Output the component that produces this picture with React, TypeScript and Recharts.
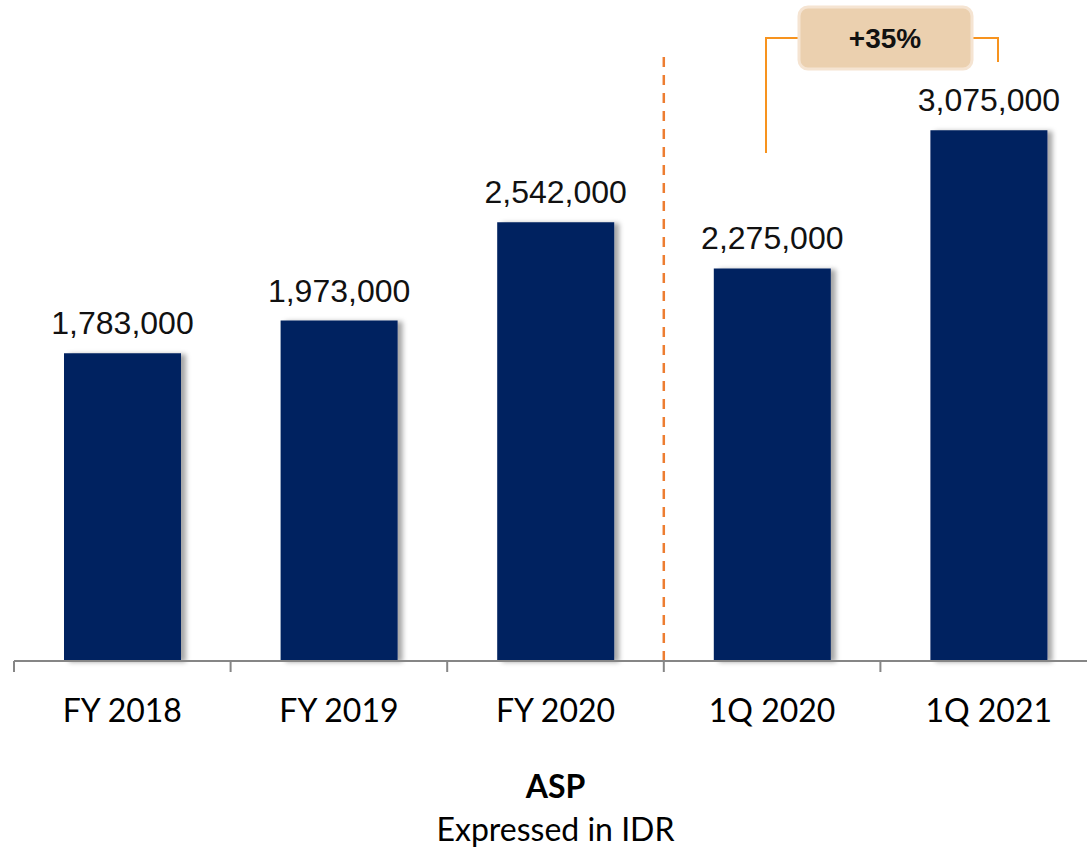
import React from 'react';
import { BarChart, Bar, XAxis, YAxis, LabelList, ReferenceLine } from 'recharts';

const categories = ['FY 2018', 'FY 2019', 'FY 2020', '1Q 2020', '1Q 2021'];
const aspValues = [1783000, 1973000, 2542000, 2275000, 3075000];
const growthLabel = '+35%';
const dividerAt = '1Q 2020';

const data = categories.map((name, i) => ({ name, asp: aspValues[i] }));

const AxisTick = (props: any) => {
  const { x, y, payload, index } = props;
  const half = payload && payload.offset ? payload.offset : 108.25;
  const last = index === categories.length - 1;
  return (
    <g>
      <line x1={x - half} x2={x - half} y1={y} y2={y + 11} stroke="#868686" strokeWidth={2} />
      {last && <line x1={x + half} x2={x + half} y1={y} y2={y + 11} stroke="#868686" strokeWidth={2} />}
      <text x={x} y={y + 61} textAnchor="middle" fontFamily="Lato, sans-serif" fontSize={32} fill="#000">
        {payload.value}
      </text>
    </g>
  );
};

export default function App() {
  return (
    <div style={{ position: 'absolute', left: 0, top: 0, width: 1087, height: 849, overflow: 'hidden', background: '#fff' }}>
      <BarChart width={1097} height={740} data={data} margin={{ top: 57, right: 0, left: 14, bottom: 0 }}>
        <defs>
          <filter id="barShadow" x="-20%" y="-10%" width="150%" height="130%">
            <feDropShadow dx={5} dy={1} stdDeviation={2.5} floodColor="#000" floodOpacity={0.35} />
          </filter>
        </defs>
        <XAxis
          dataKey="name"
          height={79}
          tickSize={0}
          tickMargin={0}
          axisLine={{ stroke: '#868686', strokeWidth: 2 }}
          tickLine={false}
          tick={<AxisTick />}
          interval={0}
        />
        <YAxis hide domain={[0, 3500000]} />
        <ReferenceLine
          x={dividerAt}
          position="start"
          stroke="#ED7D31"
          strokeWidth={2.5}
          strokeDasharray="10 8"
        />
        <Bar dataKey="asp" fill="#002060" barSize={117} isAnimationActive={false} style={{ filter: 'url(#barShadow)' }}>
          <LabelList
            dataKey="asp"
            position="top"
            offset={19}
            formatter={(v: any) => Number(v).toLocaleString('en-US')}
            style={{ fontFamily: '"Liberation Sans", Arial, sans-serif', fontSize: 32, fill: '#111' }}
          />
        </Bar>
      </BarChart>

      {/* growth bracket annotation */}
      <svg width={1087} height={170} style={{ position: 'absolute', left: 0, top: 0 }}>
        <polyline points="766,153 766,38 800,38" fill="none" stroke="#F7931E" strokeWidth={2} />
        <polyline points="971,38 998,38 998,62" fill="none" stroke="#F7931E" strokeWidth={2} />
        <rect x={799} y={7} width={173} height={62} rx={9} fill="#EBD0AF" stroke="#F5E4D2" strokeWidth={3} />
        <text x={885} y={48} textAnchor="middle" fontFamily='"Liberation Sans", Arial, sans-serif' fontWeight="bold" fontSize={28} fill="#111">
          {growthLabel}
        </text>
      </svg>

      <div style={{ position: 'absolute', left: 14, width: 1083, top: 766, textAlign: 'center', fontFamily: 'Lato, sans-serif', fontSize: 32, color: '#000', lineHeight: '40px' }}>
        <div style={{ fontWeight: 'bold' }}>ASP</div>
        <div style={{ marginTop: 3 }}>Expressed in IDR</div>
      </div>
    </div>
  );
}
